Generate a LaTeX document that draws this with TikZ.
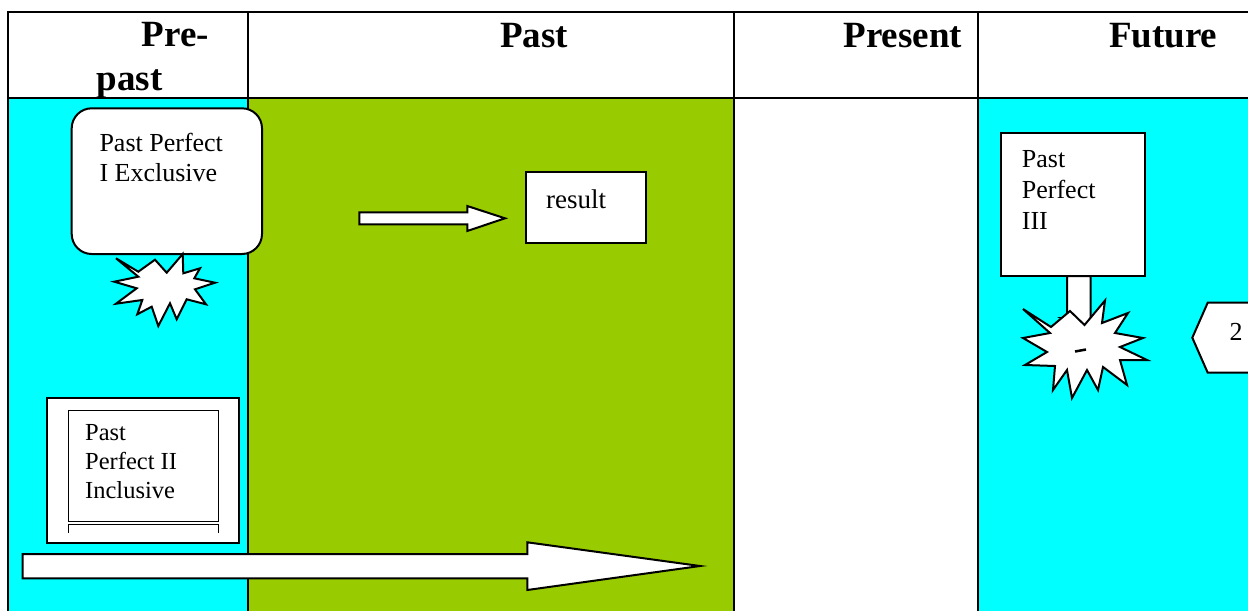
\documentclass[tikz,border=0pt]{standalone}
\usepackage{fontspec}
\setmainfont{Liberation Serif}
\definecolor{cyanc}{RGB}{0,255,255}
\definecolor{greenc}{RGB}{153,204,0}
\tikzset{
  tbl/.style={line width=2pt},
  shp/.style={draw=black, line width=2pt, fill=white, line join=miter},
  boxs/.style={draw=black, line width=2pt, fill=white, inner sep=0pt, outer sep=0pt},
  thinbox/.style={draw=black, line width=1pt, fill=white},
  txt/.style={inner sep=0pt, anchor=base west, font=\fontsize{26}{30}\selectfont},
  txts/.style={inner sep=0pt, anchor=base west, font=\fontsize{24.5}{29}\selectfont},
  hdr/.style={inner sep=0pt, anchor=base west, font=\fontsize{37}{44}\selectfont\bfseries}
}
\begin{document}
\begin{tikzpicture}[x=1pt,y=-1pt]
\useasboundingbox (0,0) rectangle (1248,611);
% column fills
\fill[cyanc] (8,98) rectangle (248,611);
\fill[greenc] (248,98) rectangle (734,611);
\fill[white] (734,98) rectangle (978,611);
\fill[cyanc] (978,98) rectangle (1248,611);
% table lines
\draw[tbl] (7,12) -- (1248,12);
\draw[tbl] (7,98) -- (1248,98);
\foreach \xx in {8,248,734,978} { \draw[tbl] (\xx,11) -- (\xx,611); }
% headers
\node[hdr] (hpre) at (141.7,46.7) {Pre-};
\node[hdr] (hpast2) at (96.7,90.7) {past};
\node[hdr] (hpast) at (500,47) {Past};
\node[hdr] (hpresent) at (843.3,47) {Present};
\node[hdr] (hfuture) at (1108.8,47) {Future};

% Past Perfect I Exclusive
\node[boxs, rounded corners=20pt, minimum width=190.3pt, minimum height=145.7pt, anchor=north west] (ppone) at (71.7,108.3) {};
\node[txt] (ppone1) at (99.3,151) {Past Perfect};
\node[txt] (ppone2) at (99.3,181.7) {I Exclusive};
% star 1
\draw[shp] (116,258.3) -- (138.3,271.7) -- (155,259.7) -- (166.7,272.7) -- (182.7,254) -- (183.3,273.3)
  -- (200,268.3) -- (194.3,278.3) -- (215,282.7) -- (195,289.3) -- (206,304.3) -- (186.7,299.3)
  -- (176.7,319.3) -- (170,303.3) -- (158.3,326) -- (151.7,306.7) -- (137.3,314.3) -- (142.3,300)
  -- (116,303.7) -- (136.7,288.3) -- (114.3,281.7) -- (138.3,276.7) -- cycle;

% small arrow and result box
\node[boxs, minimum width=120.3pt, minimum height=71pt, anchor=north west] (resultbox) at (525.7,172.3) {};
\node[txt, font=\fontsize{27}{30}\selectfont] (resulttxt) at (546,208.3) {result};
\coordinate (sa) at (359.3,218.3);
\draw[shp] (sa) ++(0,-6) -- (467.3,212.3) -- (467.3,206) -- (505,218.3) -- (467.3,231) -- (467.3,224.3) -- (359.3,224.3) -- cycle;

% Past Perfect III
\node[boxs, minimum width=144.3pt, minimum height=143.3pt, anchor=north west] (ppthree) at (1001,132.7) {};
\node[txt] (ppthree1) at (1021.7,167.5) {Past};
\node[txt] (ppthree2) at (1021.7,198) {Perfect};
\node[txt] (ppthree3) at (1021.7,229) {III};
\draw[shp] (ppthree.south) ++(-6,0) -- ++(0,42) -- ++(-6,0) -- (1084.5,330) -- (1096.5,318) -- ++(-6,0) -- (1090.5,276) -- cycle;
% star 2
\draw[shp] (1023,309) -- (1051,327) -- (1070,311) -- (1084.5,325) -- (1105,300.5) -- (1102,323)
  -- (1128,313) -- (1115,333) -- (1143,338) -- (1120,347) -- (1147,360) -- (1120,360)
  -- (1127,385) -- (1103,367) -- (1098,390) -- (1087,370) -- (1072,398) -- (1067,370)
  -- (1053,390) -- (1055,366) -- (1025,365) -- (1047,352) -- (1023,338) -- (1050,333) -- cycle;
\draw[line width=2.5pt] (1075,351.5) -- (1086,349.5);

% "2" shape
\draw[shp] (1260,302.7) -- (1207.7,302.7) -- (1192.3,337.7) -- (1207.7,372.7) -- (1260,372.7);
\node[txt] (two) at (1229.3,340) {2};

% Past Perfect II Inclusive
\node[boxs, minimum width=192.6pt, minimum height=144.4pt, anchor=north west] (pptwo) at (46.7,398.3) {};
\draw[line width=1pt] (68.3,532.7) -- (68.3,524) -- (218.3,524) -- (218.3,532.7);
\node[thinbox, minimum width=150pt, minimum height=110.7pt, anchor=north west, inner sep=0pt] (pptwoin) at (68.3,410) {};
\node[txts] (pptwo1) at (85,440) {Past};
\node[txts] (pptwo2) at (85,469.5) {Perfect II};
\node[txts] (pptwo3) at (85,498) {Inclusive};

% big arrow
\draw[shp] (22.7,554) -- (527.3,554) -- (527.3,542.3) -- (700,566) -- (527.3,590) -- (527.3,578.3) -- (22.7,578.3) -- cycle;
\end{tikzpicture}
\end{document}
